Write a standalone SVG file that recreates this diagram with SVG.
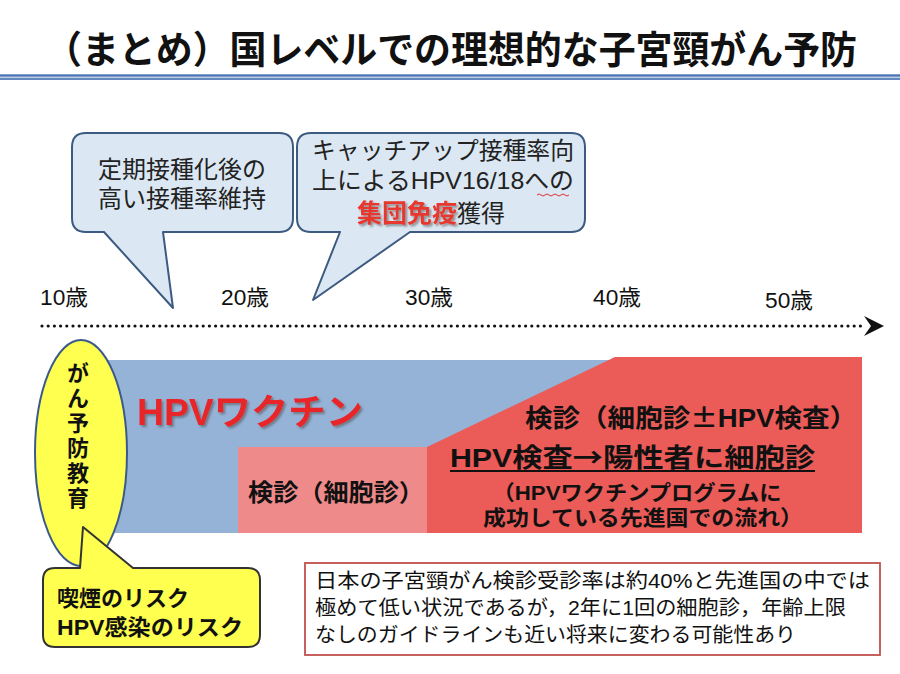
<svg xmlns="http://www.w3.org/2000/svg" width="900" height="674" viewBox="0 0 900 674">
<defs>
<style>
.jp{font-family:"Liberation Sans","Noto Sans CJK JP",sans-serif;}
.cjk{font-family:"Noto Sans CJK JP",sans-serif;}
.b{font-weight:bold;}
.call{fill:#dbe8f3;stroke:#3d5a80;stroke-width:2;stroke-linejoin:round;}
.age{font-size:22px;fill:#111;}
.ct{font-size:24px;fill:#222;text-anchor:middle;}
</style>
<filter id="sh" x="-5%" y="-20%" width="115%" height="150%">
<feDropShadow dx="2" dy="2" stdDeviation="1" flood-color="#555" flood-opacity="0.6"/>
</filter>
</defs>
<rect width="900" height="674" fill="#ffffff"/>

<g id="title">
<text class="jp b" x="451" y="63" font-size="38" text-anchor="middle" textLength="812" lengthAdjust="spacingAndGlyphs" fill="#111">（まとめ）国レベルでの理想的な子宮頸がん予防</text>
<rect x="0" y="74" width="900" height="6" fill="#b9cde6"/>
<line x1="0" y1="75.5" x2="900" y2="75.5" stroke="#4a72b0" stroke-width="1.8"/>
<line x1="0" y1="79" x2="900" y2="79" stroke="#4a72b0" stroke-width="1.3"/>
</g>

<g id="bands">
<rect x="100" y="360" width="520" height="173" fill="#95b3d7"/>
<polygon points="615,357 862,357 862,533 427,533 427,447" fill="#eb5b57"/>
<rect x="238" y="447" width="189" height="86" fill="#ee8a89"/>
</g>

<g id="callout-1">
<path class="call" d="M86,133 H279 Q293,133 293,147 V218 Q293,232 279,232 H163 L173,308 L104,232 H86 Q72,232 72,218 V147 Q72,133 86,133 Z"/>
<text class="jp ct" x="182" y="178">定期接種化後の</text>
<text class="jp ct" x="182" y="207">高い接種率維持</text>
</g>

<g id="callout-2">
<path class="call" d="M311,133 H571 Q585,133 585,147 V218 Q585,232 571,232 H410 L313,300 L340,232 H311 Q297,232 297,218 V147 Q297,133 311,133 Z"/>
<text class="jp ct" x="443" y="159" textLength="262" lengthAdjust="spacingAndGlyphs">キャッチアップ接種率向</text>
<text class="jp ct" x="443" y="189" textLength="262" lengthAdjust="spacingAndGlyphs">上によるHPV16/18への</text>
<path d="M537,195 q2,-2 4,0 t4,0 t4,0 t4,0 t4,0 t4,0 t4,0 t4,0" fill="none" stroke="#e03030" stroke-width="1"/>
<text class="jp" x="357" y="222" font-size="25"><tspan font-weight="bold" fill="#e8382f" filter="url(#sh)">集団免疫</tspan><tspan fill="#222" font-size="24">獲得</tspan></text>
</g>

<g id="timeline">
<text class="jp age" x="40" y="305" textLength="48" lengthAdjust="spacingAndGlyphs">10歳</text>
<text class="jp age" x="221" y="305" textLength="48" lengthAdjust="spacingAndGlyphs">20歳</text>
<text class="jp age" x="405" y="305" textLength="48" lengthAdjust="spacingAndGlyphs">30歳</text>
<text class="jp age" x="593" y="305" textLength="48" lengthAdjust="spacingAndGlyphs">40歳</text>
<text class="jp age" x="765" y="308" textLength="48" lengthAdjust="spacingAndGlyphs">50歳</text>
</g>

<g id="connectors">
<line x1="42" y1="326" x2="864" y2="326" stroke="#111" stroke-width="3.2" stroke-linecap="round" stroke-dasharray="0 6.2"/>
<polygon points="864,316 884,326 864,336 871,326" fill="#111"/>
</g>

<g id="hpv-vaccine">
<text class="jp b" x="137" y="425" font-size="36" fill="#e8262b" filter="url(#sh)" textLength="226" lengthAdjust="spacingAndGlyphs">HPVワクチン</text>
</g>

<g id="screening-cytology">
<text class="jp b" x="248" y="501" font-size="24" fill="#111" textLength="176" lengthAdjust="spacingAndGlyphs">検診（細胞診）</text>
</g>

<g id="screening-hpv">
<text class="jp b" x="525" y="427" font-size="25" fill="#111" textLength="332" lengthAdjust="spacingAndGlyphs">検診（細胞診<tspan class="cjk">±</tspan>HPV検査）</text>
<text class="jp b" x="450" y="467" font-size="26" fill="#111" textLength="365" lengthAdjust="spacingAndGlyphs">HPV検査<tspan class="cjk">→</tspan>陽性者に細胞診</text>
<line x1="450" y1="471" x2="815" y2="471" stroke="#111" stroke-width="2"/>
<text class="jp b" x="637" y="500" font-size="21" fill="#111" text-anchor="middle" textLength="289" lengthAdjust="spacingAndGlyphs">（HPVワクチンプログラムに</text>
<text class="jp b" x="643" y="525" font-size="21" fill="#111" text-anchor="middle" textLength="320" lengthAdjust="spacingAndGlyphs">成功している先進国での流れ）</text>
</g>

<g id="education">
<ellipse cx="81" cy="453" rx="46" ry="113" fill="#ffff4f" stroke="#3b5a8a" stroke-width="2"/>
<text class="b cjk" x="78" y="362" font-size="22" fill="#111" writing-mode="vertical-rl" letter-spacing="3">がん予防教育</text>
</g>

<g id="risk-callout">
<path d="M55,568 H80 L83,527 L133,568 H248 Q260,568 260,580 V635 Q260,647 248,647 H55 Q43,647 43,635 V580 Q43,568 55,568 Z" fill="#ffff4f" stroke="#333" stroke-width="2" stroke-linejoin="round"/>
<text class="jp b" x="57" y="606" font-size="22" fill="#111">喫煙のリスク</text>
<text class="jp b" x="57" y="635" font-size="22" fill="#111" textLength="186" lengthAdjust="spacingAndGlyphs">HPV感染のリスク</text>
</g>

<g id="note">
<rect x="305" y="563" width="575" height="92" fill="#fff" stroke="#c0504d" stroke-width="1.8"/>
<g class="jp" font-size="20" fill="#111">
<text x="315" y="588" textLength="555" lengthAdjust="spacingAndGlyphs">日本の子宮頸がん検診受診率は約40%と先進国の中では</text>
<text x="315" y="615" textLength="531" lengthAdjust="spacingAndGlyphs">極めて低い状況であるが，2年に1回の細胞診，年齢上限</text>
<text x="315" y="642" textLength="481" lengthAdjust="spacingAndGlyphs">なしのガイドラインも近い将来に変わる可能性あり</text>
</g>
</g>
</svg>
